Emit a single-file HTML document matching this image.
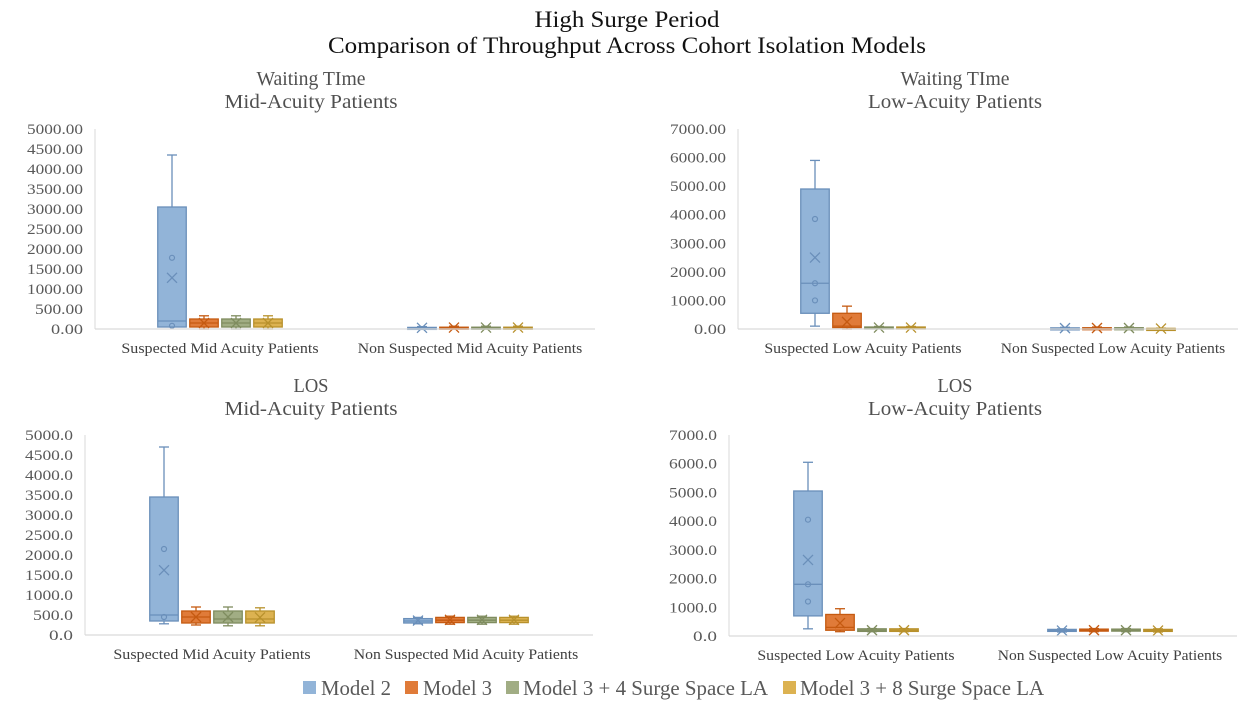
<!DOCTYPE html>
<html><head><meta charset="utf-8">
<style>
html,body{margin:0;padding:0;background:#fff;}
body{width:1251px;height:723px;position:relative;overflow:hidden;font-family:"Liberation Serif",serif;color:#404040;}
svg{position:absolute;left:0;top:0;}
</style></head>
<body>
<svg id="chart" width="1251" height="723" xmlns="http://www.w3.org/2000/svg">
<text x="627" y="27" text-anchor="middle" font-size="23" fill="#111" textLength="185" lengthAdjust="spacingAndGlyphs">High Surge Period</text>
<text x="627" y="53" text-anchor="middle" font-size="23" fill="#111" textLength="598" lengthAdjust="spacingAndGlyphs">Comparison of Throughput Across Cohort Isolation Models</text>
<g font-size="21" fill="#595959">
 <rect x="303" y="681" width="13" height="13" fill="#92b4d8"/>
 <text x="321" y="695" textLength="70" lengthAdjust="spacingAndGlyphs">Model 2</text>
 <rect x="405" y="681" width="13" height="13" fill="#e07b39"/>
 <text x="423" y="695" textLength="69" lengthAdjust="spacingAndGlyphs">Model 3</text>
 <rect x="506" y="681" width="13" height="13" fill="#a1ad84"/>
 <text x="523" y="695" textLength="245" lengthAdjust="spacingAndGlyphs">Model 3 + 4 Surge Space LA</text>
 <rect x="783" y="681" width="13" height="13" fill="#dcb251"/>
 <text x="800" y="695" textLength="244" lengthAdjust="spacingAndGlyphs">Model 3 + 8 Surge Space LA</text>
</g>
</svg>
<script>
const seriesNames = ['Model 2','Model 3','Model 3 + 4 Surge Space LA','Model 3 + 8 Surge Space LA'];
const fills = ['#92b4d8','#e07b39','#a1ad84','#dcb251'];
const strokes = ['#6a8fba','#c55a11','#7f8c5f','#b8912c'];

// [min, q1, median, q3, max, mean]
const tlCategories = ['Suspected Mid Acuity Patients','Non Suspected Mid Acuity Patients'];
const tlTicks = ['0.00','500.00','1000.00','1500.00','2000.00','2500.00','3000.00','3500.00','4000.00','4500.00','5000.00'];
const tlSuspected = [[60,50,200,3050,4350,1280],[0,50,150,250,330,150],[0,50,150,250,330,150],[0,50,150,250,330,150]];
const tlNon = [[10,20,30,40,60,30],[10,20,30,45,70,35],[10,20,30,45,70,35],[10,20,30,45,70,35]];
const tlPoints = [[80,1780],[],[],[]];

const trCategories = ['Suspected Low Acuity Patients','Non Suspected Low Acuity Patients'];
const trTicks = ['0.00','1000.00','2000.00','3000.00','4000.00','5000.00','6000.00','7000.00'];
const trSuspected = [[100,550,1600,4900,5900,2500],[0,50,100,550,800,250],[20,30,50,70,90,50],[20,30,50,70,90,50]];
const trNon = [[10,20,30,40,60,30],[10,20,30,45,70,35],[10,20,30,45,70,35],[5,10,15,20,30,15]];
const trPoints = [[1000,1600,3850],[],[],[]];

const blCategories = ['Suspected Mid Acuity Patients','Non Suspected Mid Acuity Patients'];
const blTicks = ['0.0','500.0','1000.0','1500.0','2000.0','2500.0','3000.0','3500.0','4000.0','4500.0','5000.0'];
const blSuspected = [[280,350,500,3450,4700,1620],[250,300,450,600,700,450],[230,300,400,600,700,450],[230,300,400,600,680,440]];
const blNon = [[280,300,350,410,440,360],[270,310,370,440,470,380],[270,310,370,440,470,380],[270,310,370,440,470,380]];
const blPoints = [[450,2150],[],[],[]];

const brCategories = ['Suspected Low Acuity Patients','Non Suspected Low Acuity Patients'];
const brTicks = ['0.0','1000.0','2000.0','3000.0','4000.0','5000.0','6000.0','7000.0'];
const brSuspected = [[250,700,1800,5050,6050,2650],[150,200,300,750,950,450],[150,160,200,250,260,200],[150,160,200,250,260,200]];
const brNon = [[140,160,190,230,250,190],[150,170,200,240,260,200],[150,170,200,240,260,200],[140,160,190,230,250,190]];
const brPoints = [[1200,1800,4050],[],[],[]];

const NS='http://www.w3.org/2000/svg';
const svg=document.getElementById('chart');
function mk(tag,attrs,parent){const e=document.createElementNS(NS,tag);for(const k in attrs)e.setAttribute(k,attrs[k]);(parent||svg).appendChild(e);return e;}

function panel(cfg){
  const g=mk('g',{});
  
  
  const t1=mk('text',{x:cfg.titleX,y:cfg.titleY,'text-anchor':'middle','font-size':20,fill:'#505050',textLength:cfg.t1w,lengthAdjust:'spacingAndGlyphs'},g);t1.textContent=cfg.title1;
  
  
  const t2=mk('text',{x:cfg.titleX,y:cfg.titleY+23,'text-anchor':'middle','font-size':20,fill:'#505050',textLength:cfg.t2w,lengthAdjust:'spacingAndGlyphs'},g);t2.textContent=cfg.title2;
  
  
  const maxV=parseFloat(cfg.ticks[cfg.ticks.length-1]);
  const y=v=>cfg.y0-(v/maxV)*(cfg.y0-cfg.yTop);
  const ax=mk('line',{x1:cfg.x0,x2:cfg.x0,y1:cfg.yTop,y2:cfg.y0,stroke:'#d9d9d9','stroke-width':1},g);
  
  
  cfg.ticks.forEach(tk=>{
    const tx=mk('text',{x:cfg.x0-12,y:y(parseFloat(tk))+5,'text-anchor':'end','font-size':15,fill:'#595959',textLength:tk.length*8,lengthAdjust:'spacingAndGlyphs'},g);
    tx.textContent=tk;
    
    
  });
  const bw=cfg.x1-cfg.x0, catW=bw/cfg.categories.length;
  const boxW=28.5, gap=3.5;
  [cfg.s1,cfg.s2].forEach((series,ci)=>{
    const cx=cfg.x0+catW*(ci+0.5);
    const lbl=cfg.categories[ci];
    const cl=mk('text',{x:cx,y:cfg.y0+24,'text-anchor':'middle','font-size':15,fill:'#404040',textLength:lbl.length*6.8,lengthAdjust:'spacingAndGlyphs'},g);
    cl.textContent=lbl;
    
    
    const total=4*boxW+3*gap;
    series.forEach((d,si)=>{
      const bx=cx-total/2+si*(boxW+gap), mx=bx+boxW/2;
      const bg=mk('g',{},g);
      
      
      const st=strokes[si];
      mk('line',{x1:mx,x2:mx,y1:y(d[4]),y2:y(d[3]),stroke:st,'stroke-width':1.3},bg);
      mk('line',{x1:mx,x2:mx,y1:y(d[1]),y2:y(d[0]),stroke:st,'stroke-width':1.3},bg);
      mk('line',{x1:mx-5,x2:mx+5,y1:y(d[4]),y2:y(d[4]),stroke:st,'stroke-width':1.3},bg);
      mk('line',{x1:mx-5,x2:mx+5,y1:y(d[0]),y2:y(d[0]),stroke:st,'stroke-width':1.3},bg);
      mk('rect',{x:bx,y:y(d[3]),width:boxW,height:Math.max(2,y(d[1])-y(d[3])),fill:fills[si],stroke:st,'stroke-width':1.3},bg);
      mk('line',{x1:bx,x2:bx+boxW,y1:y(d[2]),y2:y(d[2]),stroke:st,'stroke-width':1.3},bg);
      const m=y(d[5]);
      mk('path',{d:`M${mx-5},${m-5}L${mx+5},${m+5}M${mx-5},${m+5}L${mx+5},${m-5}`,stroke:st,'stroke-width':1.3,fill:'none'},bg);
      if(ci===0)(cfg.pts[si]||[]).forEach(p=>{mk('circle',{cx:mx,cy:y(p),r:2.5,fill:'none',stroke:st,'stroke-width':1.2},bg);});
    });
  });
  const base=mk('line',{x1:cfg.x0,x2:cfg.x1,y1:cfg.y0,y2:cfg.y0,stroke:'#d9d9d9','stroke-width':1.3},g);
  
  
}

panel({name:'panel-waiting-mid',title1:'Waiting TIme',title2:'Mid-Acuity Patients',t1w:109,t2w:173,titleX:311,titleY:85,x0:95,x1:595,y0:329,yTop:129,ticks:tlTicks,categories:tlCategories,s1:tlSuspected,s2:tlNon,pts:tlPoints});
panel({name:'panel-waiting-low',title1:'Waiting TIme',title2:'Low-Acuity Patients',t1w:109,t2w:174,titleX:955,titleY:85,x0:738,x1:1238,y0:329,yTop:129,ticks:trTicks,categories:trCategories,s1:trSuspected,s2:trNon,pts:trPoints});
panel({name:'panel-los-mid',title1:'LOS',title2:'Mid-Acuity Patients',t1w:35,t2w:173,titleX:311,titleY:392,x0:85,x1:593,y0:635,yTop:435,ticks:blTicks,categories:blCategories,s1:blSuspected,s2:blNon,pts:blPoints});
panel({name:'panel-los-low',title1:'LOS',title2:'Low-Acuity Patients',t1w:35,t2w:174,titleX:955,titleY:392,x0:729,x1:1237,y0:636,yTop:435,ticks:brTicks,categories:brCategories,s1:brSuspected,s2:brNon,pts:brPoints});
</script>
</body></html>
